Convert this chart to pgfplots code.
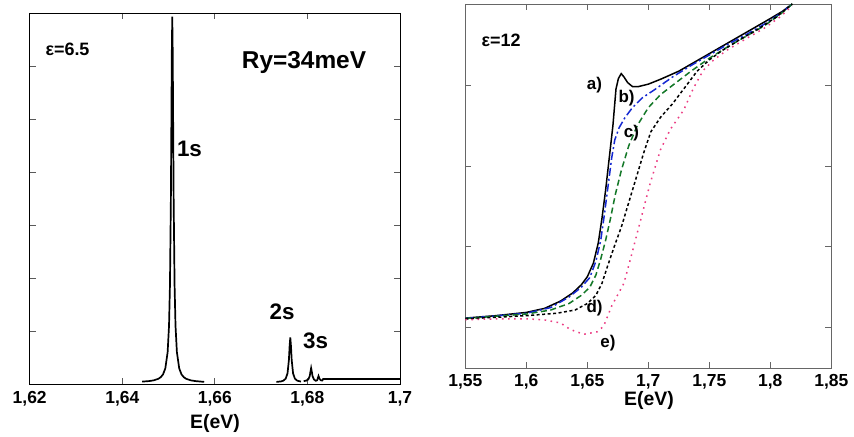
\documentclass[border=0pt]{standalone}
\usepackage{pgfplots}
\pgfplotsset{compat=1.18}
\usepackage{fontspec}
\setmainfont{Liberation Sans}
\definecolor{cblue}{RGB}{20,40,210}
\definecolor{cgreen}{RGB}{20,120,40}
\definecolor{cpink}{RGB}{235,60,130}
\begin{document}
\begin{tikzpicture}[x=1bp,y=1bp]
\path[use as bounding box] (0,0) rectangle (854,437);
% ---------------- left panel ----------------
\begin{axis}[
  at={(29.7bp,53bp)}, anchor=south west,
  scale only axis, width=370.3bp, height=371bp,
  xmin=1.62, xmax=1.70, ymin=0, ymax=7,
  xtick={1.62,1.64,1.66,1.68,1.70},
  xticklabels={{1,62},{1,64},{1,66},{1,68},{1,7}},
  ytick={1,2,3,4,5,6}, yticklabels={},
  tick align=inside, tick pos=both,
  major tick length=6bp,
  axis line style={line width=0.8bp},
  every tick/.style={line width=0.8bp, gray!70!black},
  xticklabel style={font=\fontsize{17.5}{17.5}\selectfont\bfseries, yshift=-4bp},
  clip=true,
]
\addplot[black, line width=1.7bp] coordinates {
(1.6443,0.045) (1.6458,0.055) (1.6468,0.069) (1.6478,0.098) (1.6483,0.128)
(1.6488,0.18) (1.6493,0.295) (1.6498,0.60) (1.6501,1.10) (1.6503,1.86)
(1.6505,3.48) (1.6506,4.81) (1.6507,6.24) (1.6508,6.93) (1.6509,6.24)
(1.6510,4.81) (1.6511,3.48) (1.6513,1.86) (1.6515,1.10) (1.6518,0.60)
(1.6523,0.295) (1.6528,0.18) (1.6533,0.128) (1.6538,0.098) (1.6548,0.069)
(1.6558,0.055) (1.6577,0.04)
};
\addplot[black, line width=1.7bp] coordinates {
(1.6733,0.039) (1.6743,0.049) (1.6748,0.063) (1.6753,0.10) (1.6757,0.20)
(1.6760,0.455) (1.67615,0.71) (1.6763,0.88) (1.67645,0.71) (1.6766,0.455)
(1.6769,0.20) (1.6773,0.10) (1.6778,0.063) (1.6786,0.045)
};
\addplot[black, line width=1.7bp] coordinates {
(1.6792,0.055) (1.6797,0.062) (1.6802,0.087) (1.6805,0.15) (1.68065,0.23)
(1.6808,0.30) (1.68095,0.23) (1.6811,0.15) (1.6814,0.087) (1.6818,0.06)
(1.6821,0.07) (1.6824,0.15) (1.6826,0.10) (1.6829,0.07) (1.6832,0.065)
(1.6834,0.094) (1.7000,0.094)
};
\end{axis}
% ---------------- right panel ----------------
\begin{axis}[
  at={(465.3bp,68.7bp)}, anchor=south west,
  scale only axis, width=366bp, height=364.3bp,
  xmin=1.55, xmax=1.85, ymin=-0.5, ymax=4,
  xtick={1.55,1.60,1.65,1.70,1.75,1.80,1.85},
  xticklabels={{1,55},{1,6},{1,65},{1,7},{1,75},{1,8},{1,85}},
  ytick={0,1,2,3}, yticklabels={},
  tick align=inside, tick pos=both,
  major tick length=6bp,
  axis line style={line width=0.8bp, gray!80!black},
  every tick/.style={line width=0.8bp, gray!80!black},
  xticklabel style={font=\fontsize{17.5}{17.5}\selectfont\bfseries, yshift=-3bp},
  clip=true,
]
% a) solid black
\addplot[black, line width=1.5bp] coordinates {
(1.550,0.12) (1.575,0.15) (1.600,0.19) (1.615,0.24) (1.628,0.33) (1.638,0.43)
(1.645,0.53) (1.650,0.63) (1.655,0.80) (1.659,1.05) (1.662,1.35) (1.665,1.70)
(1.668,2.10) (1.671,2.50) (1.6735,2.95) (1.6755,3.08) (1.6778,3.14) (1.680,3.10)
(1.683,3.03) (1.687,2.98) (1.692,2.98) (1.700,3.01) (1.710,3.07) (1.725,3.17)
(1.740,3.30) (1.755,3.43) (1.770,3.56) (1.785,3.69) (1.800,3.82) (1.810,3.91)
(1.818,4.00)
};
% b) blue dash-dot
\addplot[cblue, line width=1.5bp, dash pattern=on 8bp off 3bp on 2bp off 3bp] coordinates {
(1.550,0.115) (1.600,0.18) (1.620,0.25) (1.635,0.38) (1.645,0.50) (1.652,0.62)
(1.657,0.82) (1.661,1.08) (1.664,1.40) (1.667,1.75) (1.670,2.10) (1.6725,2.32)
(1.676,2.47) (1.681,2.60) (1.687,2.72) (1.695,2.84) (1.705,2.94) (1.720,3.10)
(1.735,3.24) (1.750,3.37) (1.765,3.50) (1.780,3.62) (1.795,3.75) (1.808,3.88)
(1.818,4.00)
};
% c) green dashed
\addplot[cgreen, line width=1.5bp, dash pattern=on 6bp off 3.5bp] coordinates {
(1.550,0.115) (1.600,0.17) (1.620,0.22) (1.635,0.30) (1.645,0.40) (1.652,0.50)
(1.657,0.65) (1.661,0.85) (1.665,1.08) (1.669,1.35) (1.673,1.65) (1.678,1.95)
(1.684,2.25) (1.691,2.50) (1.700,2.72) (1.710,2.88) (1.722,3.02) (1.735,3.17)
(1.750,3.33) (1.765,3.47) (1.780,3.60) (1.795,3.73) (1.808,3.87) (1.818,4.00)
};
% d) black short dashes
\addplot[black, line width=1.5bp, dash pattern=on 3bp off 2.5bp] coordinates {
(1.550,0.11) (1.600,0.15) (1.625,0.18) (1.640,0.22) (1.650,0.30) (1.657,0.40)
(1.662,0.55) (1.667,0.78) (1.672,1.00) (1.678,1.25) (1.684,1.55) (1.690,1.85)
(1.696,2.15) (1.702,2.42) (1.710,2.60) (1.720,2.77) (1.730,2.97) (1.740,3.17)
(1.750,3.31) (1.760,3.42) (1.775,3.56) (1.790,3.69) (1.805,3.84) (1.818,4.00)
};
% e) pink dotted
\addplot[cpink, line width=1.5bp, dash pattern=on 1.6bp off 4.5bp] coordinates {
(1.550,0.10) (1.575,0.11) (1.600,0.11) (1.614,0.10) (1.628,0.06) (1.636,-0.02)
(1.647,-0.08) (1.658,-0.05) (1.6634,0.02) (1.670,0.27) (1.680,0.55) (1.6852,0.84)
(1.693,1.29) (1.7016,1.79) (1.710,2.20) (1.718,2.45) (1.729,2.69) (1.737,2.96)
(1.745,3.18) (1.7536,3.31) (1.7645,3.43) (1.780,3.57) (1.795,3.70) (1.808,3.84)
(1.818,3.98)
};
\end{axis}
% ---------------- texts ----------------
\begin{scope}[every node/.style={font=\bfseries, inner sep=0pt}]
\node[font=\fontsize{18}{18}\selectfont\bfseries] at (67.5,388) {ε=6.5};
\node[font=\fontsize{24.5}{24.5}\selectfont\bfseries] at (304,374) {Ry=34meV};
\node[font=\fontsize{22.5}{22.5}\selectfont\bfseries] at (189.5,288) {1s};
\node[font=\fontsize{22.5}{22.5}\selectfont\bfseries] at (282,125) {2s};
\node[font=\fontsize{22.5}{22.5}\selectfont\bfseries] at (315.5,96) {3s};
\node[font=\fontsize{19.5}{19.5}\selectfont\bfseries] at (215,14) {E(eV)};
\node[font=\fontsize{18}{18}\selectfont\bfseries] at (501,397) {ε=12};
\node[font=\fontsize{17}{17}\selectfont\bfseries] at (594.5,352) {a)};
\node[font=\fontsize{17}{17}\selectfont\bfseries] at (626.5,339) {b)};
\node[font=\fontsize{17}{17}\selectfont\bfseries] at (631.5,304) {c)};
\node[font=\fontsize{17}{17}\selectfont\bfseries] at (594.5,129) {d)};
\node[font=\fontsize{17}{17}\selectfont\bfseries] at (608,94) {e)};
\node[font=\fontsize{19.5}{19.5}\selectfont\bfseries] at (649,37) {E(eV)};
\end{scope}
\end{tikzpicture}
\end{document}
